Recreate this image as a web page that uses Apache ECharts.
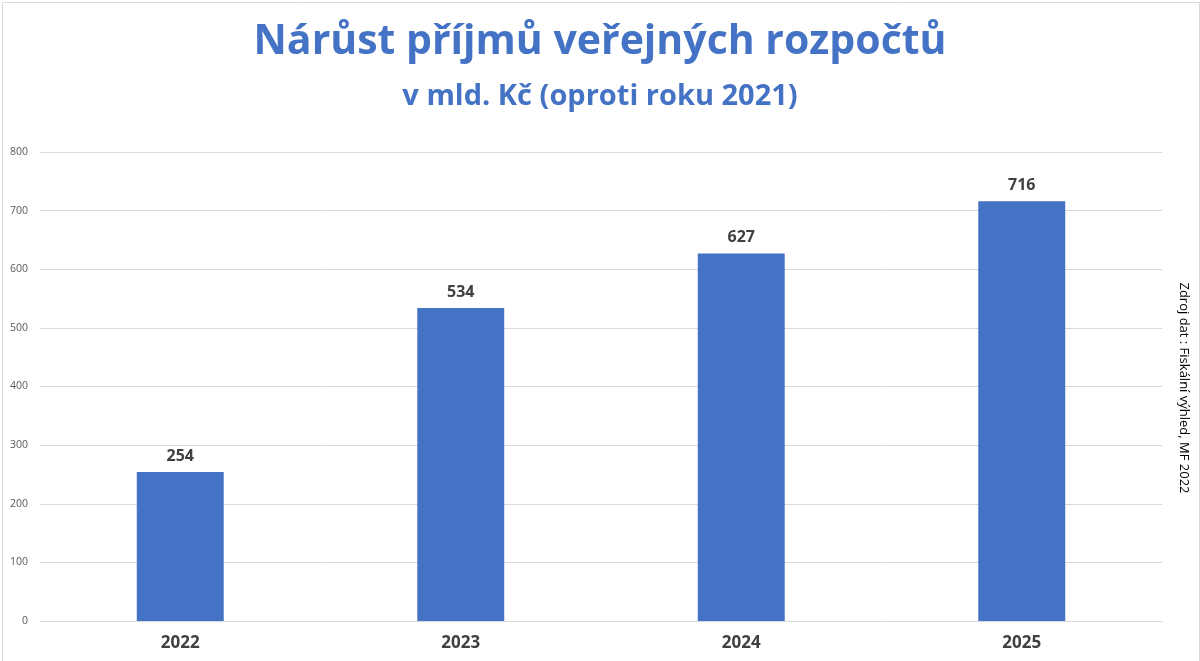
<!DOCTYPE html>
<html><head><meta charset="utf-8">
<script src="https://cdn.jsdelivr.net/npm/echarts@6/dist/echarts.min.js"></script>
<style>html,body{margin:0;padding:0;background:#fff}#c{width:1200px;height:661px}</style>
</head><body><div id="c"></div>
<script>
const categories = ['2022', '2023', '2024', '2025'];
const values = [254, 534, 627, 716];
const titleText = 'Nárůst příjmů veřejných rozpočtů';
const subtitleText = 'v mld. Kč (oproti roku 2021)';
const sourceText = 'Zdroj dat : Fiskální výhled, MF 2022';

const chart = echarts.init(document.getElementById('c'));
chart.setOption({
  backgroundColor: '#fff',
  animation: false,
  title: [
    { text: titleText, left: 'center', top: 17,
      textStyle: { fontFamily: 'Open Sans', fontWeight: 'bold', fontSize: 41, color: '#4472C4' } },
    { text: subtitleText, left: 'center', top: 77,
      textStyle: { fontFamily: 'Open Sans', fontWeight: 'bold', fontSize: 29, color: '#4472C4' } }
  ],
  grid: { left: 40, right: 38, top: 152, bottom: 40, containLabel: false },
  xAxis: {
    type: 'category', data: categories,
    axisLine: { lineStyle: { color: '#d9d9d9' } },
    axisTick: { show: false },
    axisLabel: { fontFamily: 'Open Sans', fontWeight: 'bold', fontSize: 17, color: '#404040', margin: 14 }
  },
  yAxis: {
    type: 'value', min: 0, max: 800, interval: 100,
    axisLine: { show: false }, axisTick: { show: false },
    splitLine: { lineStyle: { color: '#d9d9d9' } },
    axisLabel: { fontFamily: 'Open Sans', fontSize: 10.5, color: '#595959', margin: 12 }
  },
  series: [{
    type: 'bar', data: values, barWidth: '31%',
    itemStyle: { color: '#4472C4' },
    label: { show: true, position: 'top', distance: 8, fontFamily: 'Open Sans', fontWeight: 'bold', fontSize: 16, color: '#404040' }
  }],
  graphic: [
    { type: 'rect', left: 0, top: 0, shape: { x: 0.5, y: 0.5, width: 1197, height: 659 },
      style: { fill: 'none', stroke: '#d9d9d9', lineWidth: 1 }, silent: true },
    { type: 'text', x: 1184, y: 388, rotation: -Math.PI / 2,
      style: { text: sourceText, fontFamily: 'Open Sans', fontSize: 13, fill: '#000', align: 'center', verticalAlign: 'middle' } }
  ]
});
</script></body></html>
